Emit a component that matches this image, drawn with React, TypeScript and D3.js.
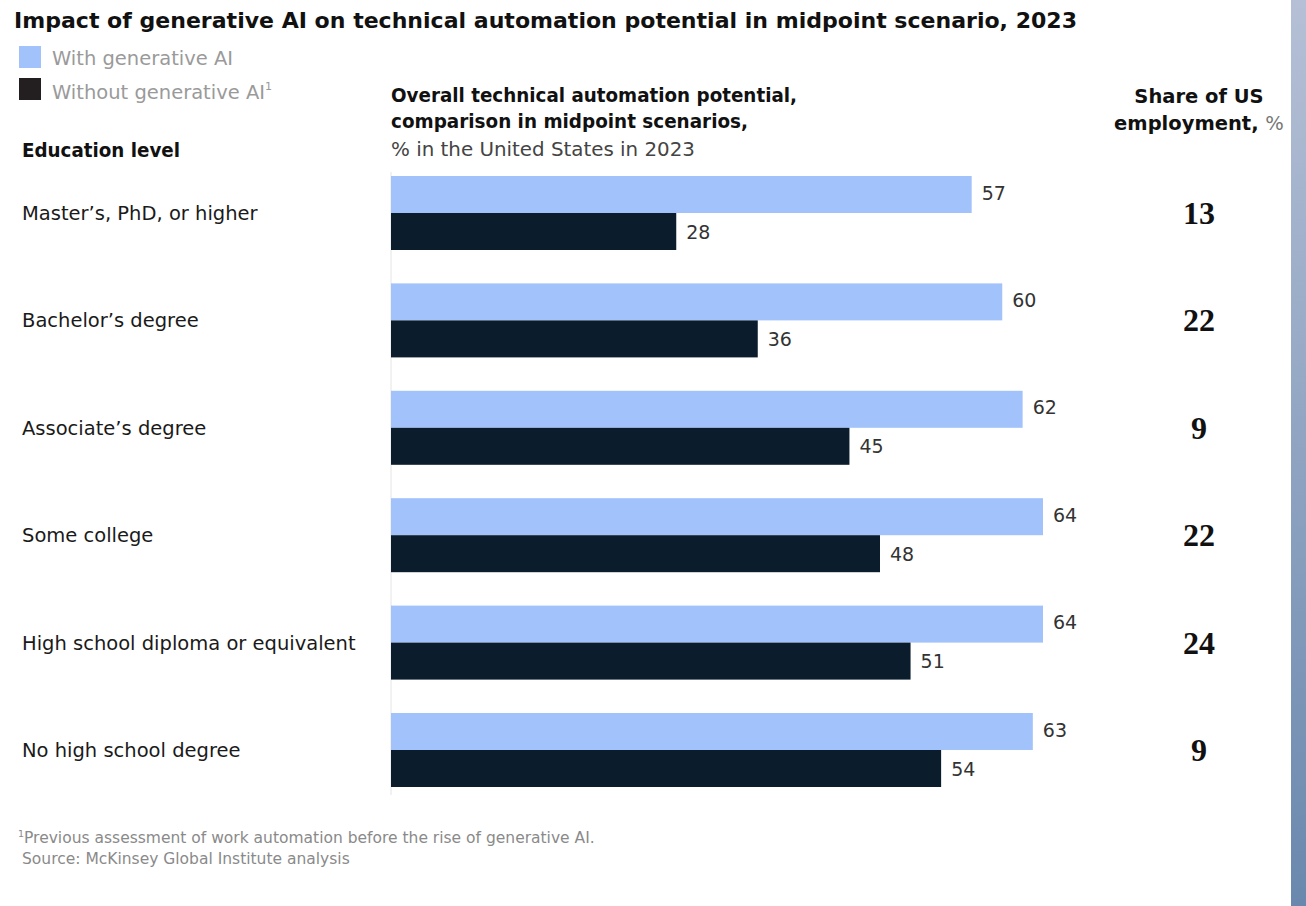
import React from "react";
import * as d3 from "d3";

const categories = [
  "Master’s, PhD, or higher",
  "Bachelor’s degree",
  "Associate’s degree",
  "Some college",
  "High school diploma or equivalent",
  "No high school degree",
];
const withGenAI = [57, 60, 62, 64, 64, 63];
const withoutGenAI = [28, 36, 45, 48, 51, 54];
const employmentShare = [13, 22, 9, 22, 24, 9];

const W = 1306;
const H = 906;
const BLUE = "#a2c2fb";
const DARK = "#0b1d2d";
const SANS = "'DejaVu Sans', 'Liberation Sans', Arial, sans-serif";
const SERIF = "'Liberation Serif', 'DejaVu Serif', serif";

export default function App() {
  const x = d3.scaleLinear().domain([0, 64]).range([391, 1043]);
  const bh = 37;
  const y = d3
    .scaleBand<string>()
    .domain(categories)
    .range([176, 176 + 107.4 * categories.length])
    .paddingInner(0)
    .paddingOuter(0);

  return (
    <svg width={W} height={H} style={{ position: "absolute", left: 0, top: 0, background: "#fff" }} fontFamily={SANS}>
      <defs>
        <linearGradient id="edge" x1="0" y1="0" x2="0" y2="1">
          <stop offset="0" stopColor="#b5c0d6" />
          <stop offset="1" stopColor="#6a88ad" />
        </linearGradient>
      </defs>
      <rect x={0} y={0} width={W} height={H} fill="#fff" />
      <rect x={1291} y={0} width={15} height={H} fill="url(#edge)" />

      <text x={14} y={28} fontSize={22} fontWeight={700} fill="#111" textLength={1063} lengthAdjust="spacingAndGlyphs">
        Impact of generative AI on technical automation potential in midpoint scenario, 2023
      </text>

      <rect x={19} y={46} width={22} height={22} fill={BLUE} />
      <text x={52} y={65} fontSize={19.5} fill="#9a9a9a">With generative AI</text>
      <rect x={19} y={78} width={22} height={22} fill="#231f20" />
      <text x={52} y={99} fontSize={19.5} fill="#9a9a9a">
        Without generative AI<tspan fontSize={11} dy={-9}>1</tspan>
      </text>

      <text x={22} y={157} fontSize={19} fontWeight={700} fill="#111" textLength={158} lengthAdjust="spacingAndGlyphs">Education level</text>

      <text x={391} y={102} fontSize={19} fontWeight={700} fill="#111" textLength={406} lengthAdjust="spacingAndGlyphs">Overall technical automation potential,</text>
      <text x={391} y={128} fontSize={19} fontWeight={700} fill="#111" textLength={357} lengthAdjust="spacingAndGlyphs">comparison in midpoint scenarios,</text>
      <text x={391} y={156} fontSize={19.5} fill="#444" textLength={304} lengthAdjust="spacingAndGlyphs">% in the United States in 2023</text>

      <text x={1199} y={103} fontSize={19.5} fontWeight={700} fill="#111" textAnchor="middle">Share of US</text>
      <text x={1199} y={130} fontSize={19.5} fontWeight={700} fill="#111" textAnchor="middle">
        employment, <tspan fontWeight={400} fill="#777">%</tspan>
      </text>

      <line x1={391} x2={391} y1={172} y2={795} stroke="#e4e4e4" strokeWidth={1} />

      {categories.map((c, i) => {
        const gy = y(c) as number;
        return (
          <g key={c}>
            <text x={22} y={gy + bh + 7} fontSize={19.5} fill="#1a1a1a">{c}</text>
            <rect x={x(0)} y={gy} width={x(withGenAI[i]) - x(0)} height={bh} fill={BLUE} />
            <rect x={x(0)} y={gy + bh} width={x(withoutGenAI[i]) - x(0)} height={bh} fill={DARK} />
            <text x={x(withGenAI[i]) + 10} y={gy + 18} fontSize={19} fill="#333" dominantBaseline="middle">{withGenAI[i]}</text>
            <text x={x(withoutGenAI[i]) + 10} y={gy + bh + 20} fontSize={19} fill="#333" dominantBaseline="middle">{withoutGenAI[i]}</text>
            <text x={1199} y={gy + bh + 11} fontSize={32} fontWeight={700} fill="#111" textAnchor="middle"
              fontFamily={SERIF}>{employmentShare[i]}</text>
          </g>
        );
      })}

      <text x={18} y={843} fontSize={15.5} fill="#8a8a8a">
        <tspan fontSize={9.5} dy={-6}>1</tspan><tspan dy={6}>Previous assessment of work automation before the rise of generative AI.</tspan>
      </text>
      <text x={22} y={864} fontSize={15.5} fill="#8a8a8a">Source: McKinsey Global Institute analysis</text>
    </svg>
  );
}
